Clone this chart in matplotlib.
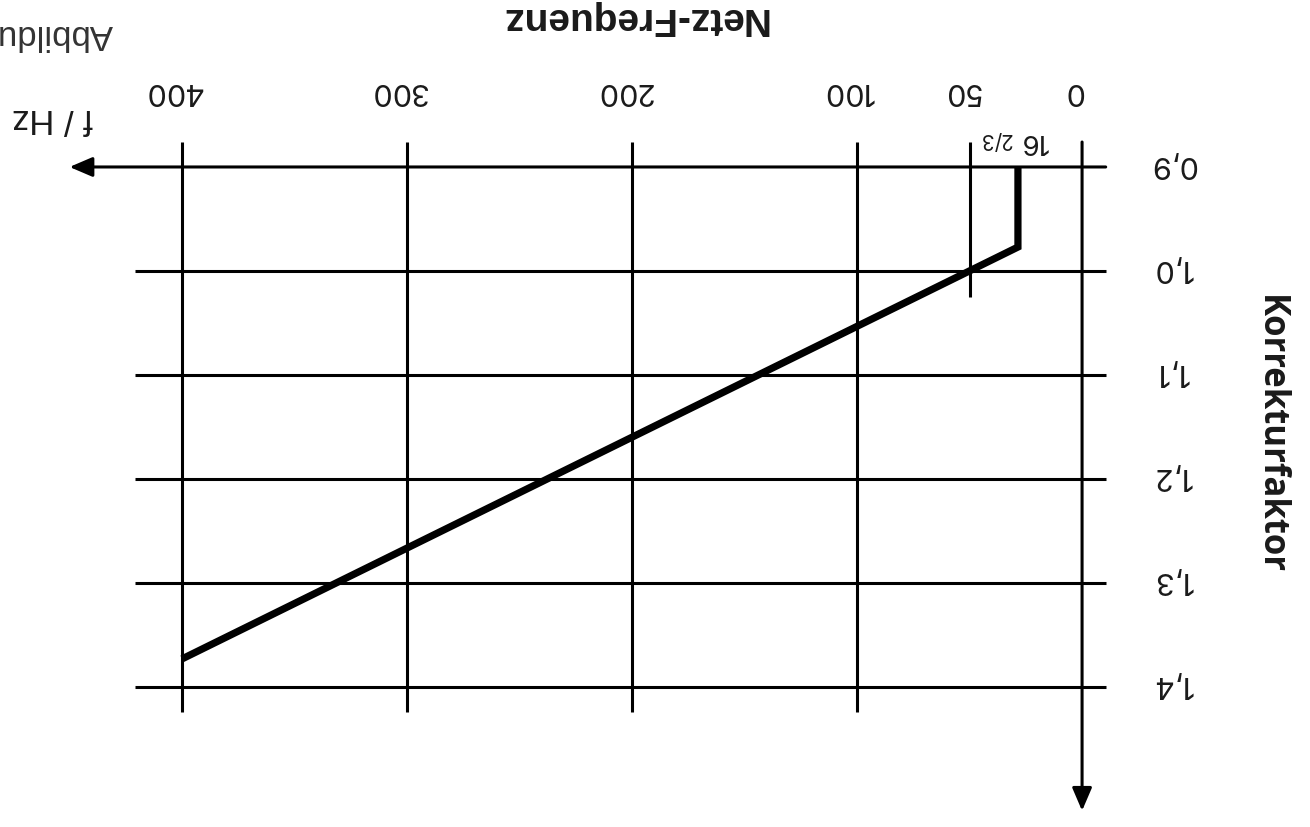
import matplotlib
matplotlib.use('Agg')
from matplotlib import pyplot as plt

freq_ticks = [0, 50, 100, 200, 300, 400]
freq_labels = ['0', '50', '100', '200', '300', '400']
factor_ticks = [0.9, 1.0, 1.1, 1.2, 1.3, 1.4]
factor_labels = ['0,9', '1,0', '1,1', '1,2', '1,3', '1,4']

curve_f = [28.5, 28.5, 400]
curve_k = [0.9, 0.977, 1.373]

ink = '#1a1a1a'
plt.rcParams['font.family'] = ['Liberation Sans', 'DejaVu Sans']
tick_font = ['Inter', 'Liberation Sans', 'DejaVu Sans']

fig = plt.figure(figsize=(13.1, 8.28), dpi=100)
ax = fig.add_axes([0, 0, 1, 1])
# the whole drawing is turned by 180 degrees: both axes run backwards
ax.set_xlim(480.9, -101.3)
ax.set_ylim(1.5346, 0.7385)
ax.axis('off')

# horizontal grid (the 0,9 line is the frequency axis itself)
ax.hlines(factor_ticks[1:], -10.5, 421, color='black', lw=2.2)
# vertical grid
ax.vlines(freq_ticks[2:], 0.876, 1.424, color='black', lw=2.2)
ax.vlines(freq_ticks[1], 0.876, 1.025, color='black', lw=2.2)

arrow = dict(arrowstyle='-|>,head_length=1.4,head_width=0.6', color='black',
             lw=2.2, shrinkA=0, shrinkB=0, mutation_scale=10)
ax.annotate('', xy=(450, factor_ticks[0]), xytext=(-10.5, factor_ticks[0]), arrowprops=arrow)
ax.annotate('', xy=(freq_ticks[0], 1.519), xytext=(freq_ticks[0], 0.876), arrowprops=arrow)

# the correction curve
ax.plot(curve_f, curve_k, color='black', lw=5.2, solid_joinstyle='miter', solid_capstyle='butt')

# tick labels
for f, lab in zip(freq_ticks, freq_labels):
    ax.text(f + 4, 0.826, lab, rotation=180, ha='center', va='center',
            fontsize=22, color=ink, family=tick_font)
for k, lab in zip(factor_ticks, factor_labels):
    ax.text(-40, k - 0.004, lab, rotation=180, ha='center', va='center',
            fontsize=22, color=ink, family=tick_font)

ax.text(21.8, 0.874, '16', rotation=180, ha='center', va='center',
        fontsize=20, color=ink, family=tick_font)
ax.text(38.7, 0.872, '2/3', rotation=180, ha='center', va='center',
        fontsize=15, color=ink, family=tick_font)

ax.text(199.5, 0.756, 'Netz-Frequenz', rotation=180, ha='center', va='center',
        fontsize=28, fontweight='bold', color=ink)
ax.text(457.8, 0.852, 'f / Hz', rotation=180, ha='center', va='center', fontsize=25, color=ink)
ax.text(-83.5, 1.1567, 'Korrekturfaktor', rotation=-90, ha='center', va='center',
        fontsize=25, fontweight='bold', family=['Open Sans', 'DejaVu Sans'], color=ink)
ax.text(430.7, 0.7625, 'Abbildung', rotation=180, rotation_mode='anchor', ha='left',
        va='baseline', fontsize=25, color='#333333')

fig.savefig('out.png', dpi=100)
